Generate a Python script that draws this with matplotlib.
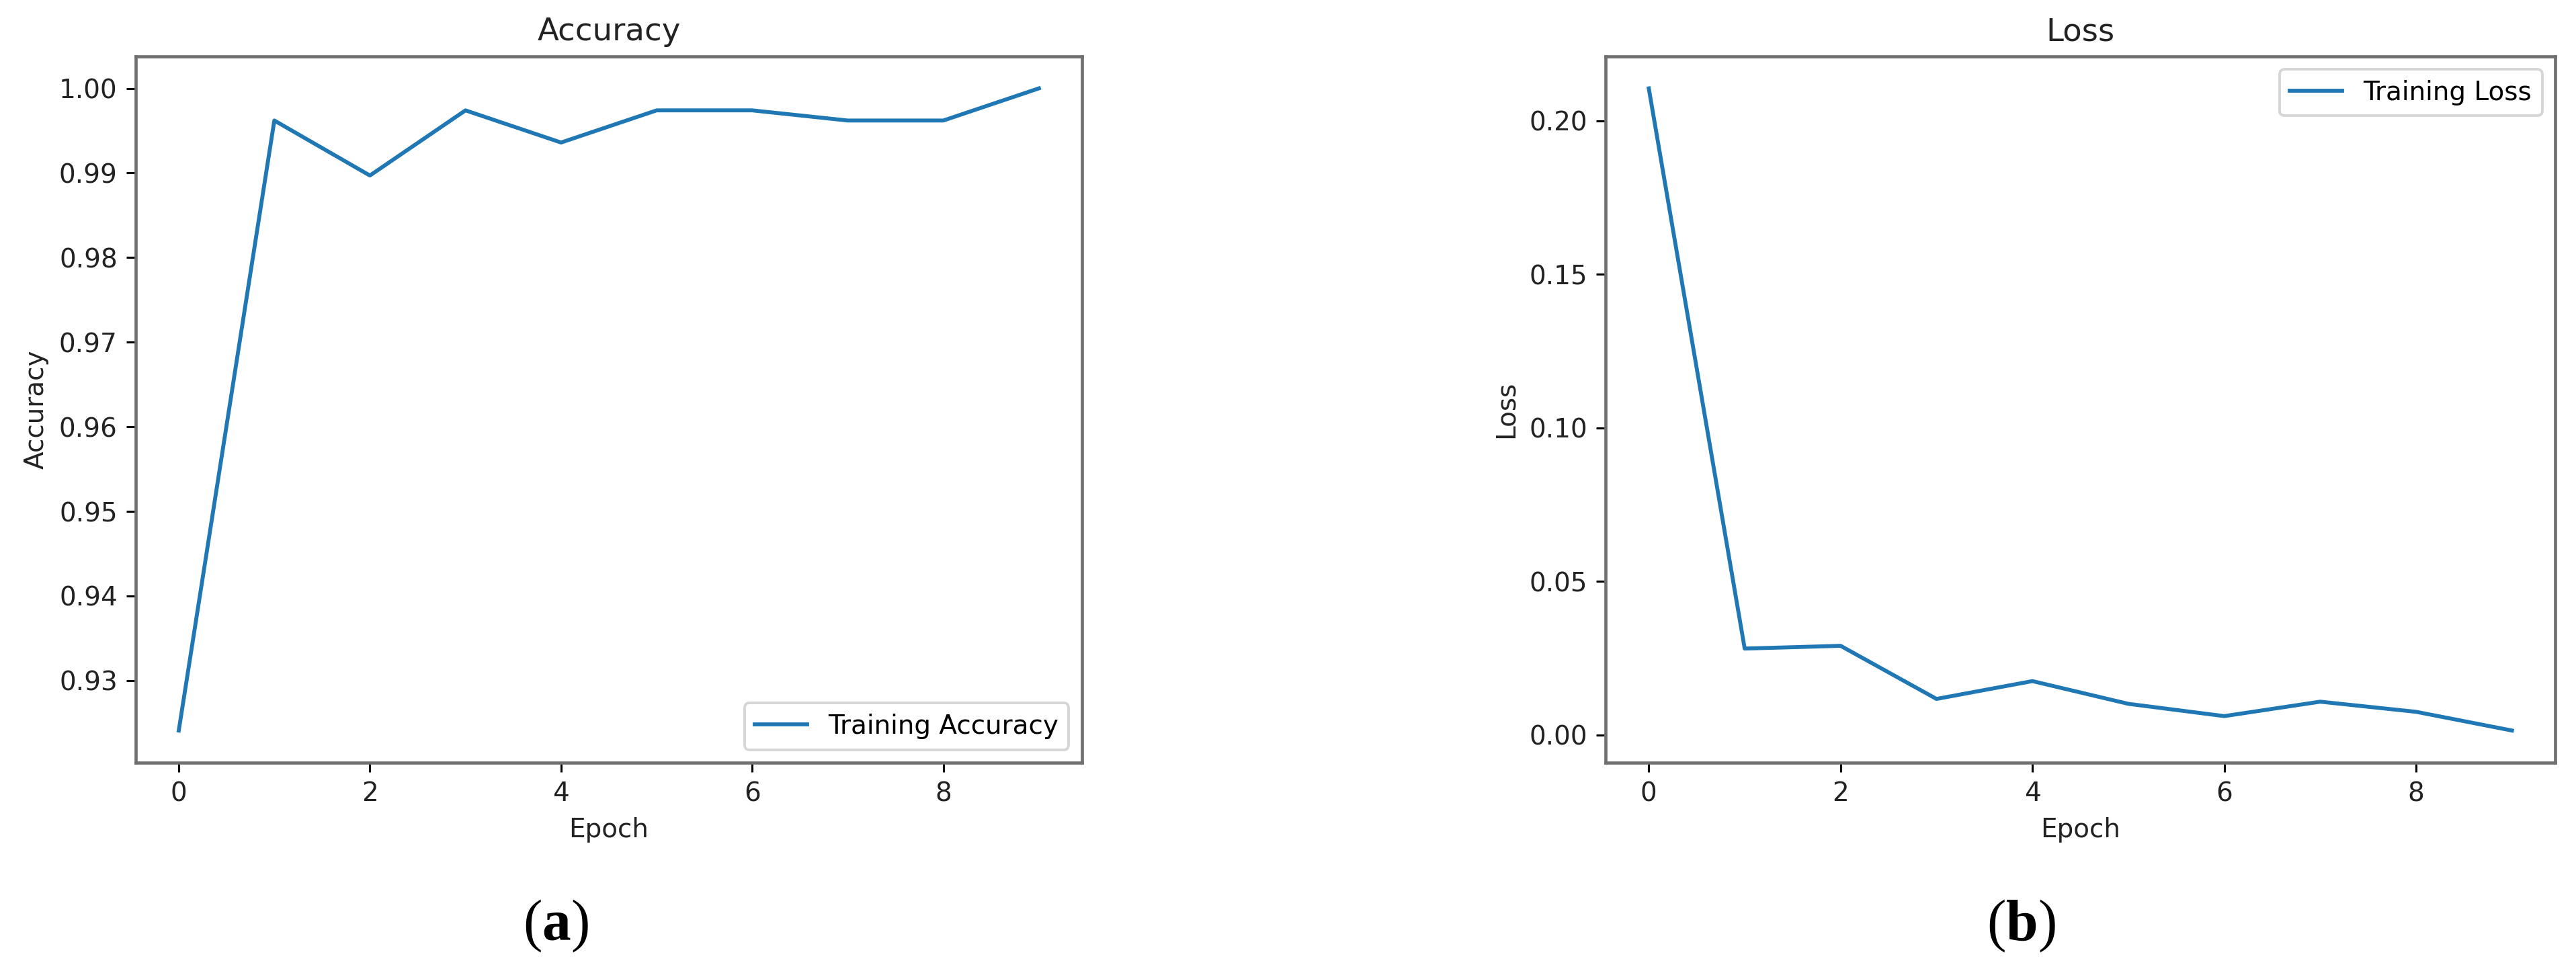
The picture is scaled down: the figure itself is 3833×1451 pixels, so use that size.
import matplotlib
matplotlib.use("Agg")
import matplotlib.pyplot as plt

# training history
epochs = list(range(10))
train_acc = [0.9241, 0.9962, 0.9897, 0.9974, 0.9936, 0.9974, 0.9974, 0.9962, 0.9962, 1.0000]
train_loss = [0.2106, 0.0281, 0.0290, 0.0117, 0.0175, 0.0101, 0.0061, 0.0108, 0.0075, 0.0014]

panel_titles = ["Accuracy", "Loss"]
panel_ylabels = ["Accuracy", "Loss"]
series_labels = ["Training Accuracy", "Training Loss"]
panel_tags = ["a", "b"]

plt.rcParams["mathtext.fontset"] = "custom"
plt.rcParams["mathtext.rm"] = "Liberation Serif"
plt.rcParams["mathtext.bf"] = "Liberation Serif:bold"

DPI = 280
fig = plt.figure(figsize=(3833 / DPI, 1451 / DPI), dpi=DPI)

ax_a = fig.add_axes([0.0527, 0.2178, 0.3673, 0.7245])
ax_b = fig.add_axes([0.6233, 0.2178, 0.3686, 0.7245])

ax_a.plot(epochs, train_acc, color="#1f77b4", label=series_labels[0])
ax_a.legend(loc="lower right")
ax_b.plot(epochs, train_loss, color="#1f77b4", label=series_labels[1])
ax_b.legend(loc="upper right")

for ax, title, ylab in zip([ax_a, ax_b], panel_titles, panel_ylabels):
    ax.set_title(title, color="#222222")
    ax.set_xlabel("Epoch", color="#222222")
    ax.set_ylabel(ylab, color="#222222")
    ax.tick_params(labelcolor="#222222")
    for sp in ax.spines.values():
        sp.set_color("#707070")
        sp.set_linewidth(1.2)

tag_x = [0.2158, 0.7845]
for x, tag in zip(tag_x, panel_tags):
    fig.text(x, 0.0503, "(" + r"$\mathbf{" + tag + "}$" + ")", ha="center", va="center",
             family="Liberation Serif", fontsize=22, color="black")

fig.savefig("out.png", dpi=DPI)
